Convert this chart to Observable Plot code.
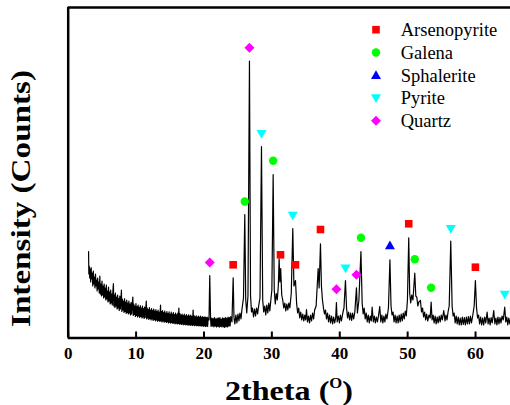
<!DOCTYPE html>
<html><head><meta charset="utf-8">
<script src="https://cdn.jsdelivr.net/npm/d3@7"></script>
<script src="https://cdn.jsdelivr.net/npm/@observablehq/plot@0.6"></script>
<style>body{margin:0;background:#fff;} #chart{width:510px;height:405px;} svg text{font-family:'Liberation Serif','Times New Roman',Times,serif;}</style>
</head><body><div id="chart"></div>
<script>
// XRD trace: [2theta, counts]
const trace = [
[3.00,865],[3.04,640],[3.10,720],[3.17,600],[3.24,690],[3.31,560],[3.38,705],[3.46,590],[3.54,650],[3.62,520],
[3.70,670],[3.78,540],[3.86,610],[3.94,500],[4.02,640],[4.10,520],[4.18,580],[4.26,470],[4.34,600],[4.42,490],
[4.50,560],[4.58,450],[4.66,620],[4.74,440],[4.82,540],[4.90,420],[4.98,570],[5.06,430],[5.14,520],[5.22,400],
[5.30,540],[5.38,410],[5.46,500],[5.54,380],[5.62,530],[5.70,390],[5.78,470],[5.86,360],[5.94,510],[6.02,370],
[6.10,460],[6.18,340],[6.26,480],[6.34,350],[6.42,440],[6.50,330],[6.58,470],[6.66,545],[6.72,320],[6.80,430],
[6.88,305],[6.96,450],[7.04,320],[7.12,410],[7.20,290],[7.28,430],[7.36,300],[7.44,395],[7.52,275],[7.60,420],
[7.68,290],[7.76,380],[7.84,480],[7.90,265],[7.98,390],[8.06,280],[8.14,370],[8.22,255],[8.30,395],[8.38,265],
[8.46,360],[8.54,245],[8.62,380],[8.70,255],[8.78,350],[8.86,240],[8.94,370],[9.02,250],[9.10,340],[9.18,230],
[9.26,355],[9.34,240],[9.42,330],[9.52,410],[9.58,225],[9.66,340],[9.74,235],[9.82,320],[9.90,215],[9.98,345],
[10.06,225],[10.14,315],[10.22,210],[10.30,330],[10.38,220],[10.46,305],[10.54,205],[10.62,325],[10.70,215],[10.78,300],
[10.86,200],[10.94,320],[11.02,210],[11.10,295],[11.18,195],[11.26,310],[11.34,205],[11.42,290],[11.50,370],[11.56,190],
[11.64,300],[11.72,200],[11.80,285],[11.88,185],[11.96,305],[12.04,195],[12.12,280],[12.20,180],[12.28,295],[12.36,190],
[12.44,275],[12.52,175],[12.60,290],[12.68,185],[12.76,270],[12.84,172],[12.92,285],[13.00,180],[13.08,265],[13.16,168],
[13.24,280],[13.32,175],[13.40,260],[13.48,165],[13.60,330],[13.66,170],[13.74,265],[13.82,160],[13.90,275],[13.98,170],
[14.06,255],[14.14,158],[14.22,270],[14.30,165],[14.38,250],[14.46,155],[14.54,265],[14.62,162],[14.70,245],[14.78,150],
[14.86,262],[14.94,158],[15.02,240],[15.10,148],[15.18,258],[15.26,155],[15.34,238],[15.42,145],[15.50,255],[15.58,150],
[15.66,235],[15.74,142],[15.82,250],[15.90,148],[15.98,232],[16.06,140],[16.14,248],[16.22,145],[16.30,300],[16.38,138],
[16.46,245],[16.54,142],[16.62,228],[16.70,135],[16.78,240],[16.86,140],[16.94,225],[17.02,132],[17.10,238],[17.18,138],
[17.26,222],[17.34,130],[17.42,235],[17.50,136],[17.58,220],[17.66,128],[17.74,232],[17.82,134],[17.90,218],[17.98,126],
[18.06,230],[18.14,132],[18.22,215],[18.30,125],[18.40,280],[18.46,130],[18.54,225],[18.62,124],[18.70,212],[18.78,128],
[18.86,222],[18.94,122],[19.02,210],[19.10,126],[19.18,220],[19.26,120],[19.34,208],[19.42,125],[19.50,218],[19.58,118],
[19.66,206],[19.74,124],[19.82,215],[19.90,117],[19.98,205],[20.06,122],[20.14,212],[20.22,116],[20.30,204],[20.38,120],
[20.46,210],[20.54,115],[20.62,200],[20.74,180],[20.85,625],[20.97,190],[21.05,115],
[21.15,200],[21.25,120],[21.35,195],[21.45,112],[21.55,205],[21.65,118],[21.75,192],[21.85,110],[21.95,200],[22.05,115],
[22.15,198],[22.25,108],[22.35,205],[22.45,116],[22.55,190],[22.65,110],[22.75,202],[22.85,112],[22.95,196],[23.05,106],
[23.15,204],[23.25,114],[23.35,198],[23.45,110],[23.55,210],[23.65,118],[23.75,205],[23.85,120],[23.95,215],[24.12,160],
[24.30,602],[24.42,200],
[24.55,140],[24.70,230],[24.85,150],[25.00,240],[25.15,170],[25.30,250],[25.45,190],[25.60,290],[25.82,400],[26.01,1235],
[26.15,380],[26.30,250],[26.48,420],[26.70,2768],[26.86,420],[27.00,260],[27.15,300],[27.30,210],[27.45,290],[27.60,220],
[27.75,300],[27.90,240],[28.05,320],[28.25,400],[28.47,1915],[28.65,380],[28.80,260],[28.95,320],[29.10,230],[29.25,330],
[29.40,250],[29.55,350],[29.70,270],[29.85,380],[30.00,480],[30.19,1635],[30.35,480],[30.50,340],[30.65,445],[30.80,380],
[30.95,520],[31.07,792],[31.18,560],[31.30,695],[31.45,430],[31.60,380],[31.75,300],[31.90,350],[32.05,270],[32.20,340],
[32.35,280],[32.50,350],[32.65,300],[32.86,450],[33.08,1095],[33.25,520],[33.48,575],[33.65,340],[33.80,250],[33.95,300],
[34.10,200],[34.25,260],[34.40,180],[34.55,240],[34.70,170],[34.85,230],[34.98,180],[35.10,285],[35.25,160],[35.40,220],
[35.55,150],[35.70,230],[35.85,170],[36.00,250],[36.15,190],[36.30,280],[36.52,320],[36.82,695],[36.96,500],[37.16,942],
[37.30,520],[37.45,380],[37.60,300],[37.75,240],[37.90,280],[38.05,190],[38.20,250],[38.35,160],[38.50,230],[38.65,150],
[38.80,220],[38.95,140],[39.10,210],[39.25,150],[39.40,200],[39.51,355],[39.62,160],[39.80,220],[39.95,150],[40.10,230],
[40.25,170],[40.45,250],[40.62,300],[40.84,575],[41.00,300],[41.15,200],[41.30,260],[41.45,180],[41.60,250],[41.75,175],
[41.90,250],[42.05,190],[42.22,260],[42.46,502],[42.60,250],[42.82,380],[43.12,865],[43.30,350],[43.45,240],[43.60,300],
[43.75,190],[43.90,250],[44.05,160],[44.20,230],[44.35,150],[44.50,220],[44.65,170],[44.77,308],[44.95,160],[45.10,220],
[45.25,150],[45.40,210],[45.55,160],[45.70,220],[45.89,315],[46.05,160],[46.20,230],[46.35,150],[46.50,220],[46.65,160],
[46.80,240],[46.95,190],[47.17,300],[47.39,782],[47.55,320],[47.70,230],[47.85,260],[48.00,160],[48.15,230],[48.30,150],
[48.45,220],[48.60,150],[48.75,230],[48.90,160],[49.05,240],[49.20,170],[49.35,250],[49.50,190],[49.65,270],[49.80,220],
[49.97,380],[50.16,1002],[50.30,450],[50.45,350],[50.60,430],[50.78,380],[51.05,648],[51.20,420],[51.35,408],[51.50,320],
[51.65,360],[51.88,375],[52.05,260],[52.20,300],[52.35,210],[52.50,260],[52.65,180],[52.80,240],[52.95,170],[53.15,230],
[53.32,200],[53.46,358],[53.60,180],[53.75,230],[53.90,150],[54.05,220],[54.20,140],[54.35,210],[54.50,150],[54.65,220],
[54.80,160],[54.95,230],[55.10,180],[55.32,275],[55.50,170],[55.65,230],[55.80,180],[55.95,260],[56.12,320],[56.35,968],
[56.55,320],[56.70,220],[56.85,250],[57.00,150],[57.15,220],[57.30,140],[57.45,210],[57.60,130],[57.75,200],[57.90,130],
[58.05,210],[58.20,135],[58.35,205],[58.50,130],[58.65,210],[58.80,140],[58.95,215],[59.10,140],[59.25,220],[59.40,150],
[59.60,230],[59.80,320],[59.98,575],[60.15,300],[60.30,200],[60.45,230],[60.60,140],[60.75,210],[60.90,130],[61.05,200],
[61.20,130],[61.35,210],[61.50,150],[61.71,258],[61.85,140],[62.00,200],[62.15,130],[62.30,205],[62.45,150],[62.68,275],
[62.85,140],[63.00,200],[63.15,130],[63.30,210],[63.45,140],[63.60,205],[63.75,150],[63.90,220],[64.08,180],[64.30,308],
[64.45,160],[64.60,210],[64.75,130],[64.90,200],[65.05,140],[65.20,200]
];

// Phase markers: [2theta, counts]
const arsenopyrite = [[24.30,732],[31.27,832],[33.48,732],[37.16,1085],[50.16,1142],[59.98,708]];
const galena = [[26.01,1365],[30.19,1772],[43.12,1002],[51.05,788],[53.46,502]];
const sphalerite = [[47.39,925]];
const pyrite = [[28.47,2042],[33.08,1225],[40.84,698],[56.35,1092],[64.30,435]];
const quartz = [[20.85,755],[26.70,2902],[39.51,488],[42.46,632]];

const phaseNames = ["Arsenopyrite","Galena","Sphalerite","Pyrite","Quartz"];
const phaseColors = ["#ff0000","#00ff00","#0000ff","#00ffff","#ff00ff"];
const xTicks = [0,10,20,30,40,50,60];
const xDomain = [0, 65.15];
const yDomain = [0, 3305];

const hr = s => Math.sqrt(s / Math.PI);
const symSquare = {draw(c, s){ const r = hr(s); c.rect(-r, -r, 2*r, 2*r); }};
const symCircle = {draw(c, s){ const r = hr(s); c.moveTo(r, 0); c.arc(0, 0, r, 0, 2*Math.PI); c.closePath(); }};
const symUp = {draw(c, s){ const r = hr(s); c.moveTo(0, -r); c.lineTo(r, 0.74*r); c.lineTo(-r, 0.74*r); c.closePath(); }};
const symDown = {draw(c, s){ const r = hr(s); c.moveTo(0, r); c.lineTo(r, -0.74*r); c.lineTo(-r, -0.74*r); c.closePath(); }};
const symDiamond = {draw(c, s){ const r = hr(s); c.moveTo(0, -r); c.lineTo(r, 0); c.lineTo(0, r); c.lineTo(-r, 0); c.closePath(); }};
const phaseSymbols = [symSquare, symCircle, symUp, symDown, symDiamond];
const phaseR = [3.8, 4.2, 5, 5, 5];
const phaseData = [arsenopyrite, galena, sphalerite, pyrite, quartz];

const serif = "'Liberation Serif', 'Times New Roman', Times, serif";

const plot = Plot.plot({
  width: 510, height: 405,
  marginLeft: 67.7, marginRight: 0, marginTop: 7, marginBottom: 67.5,
  style: {fontFamily: serif, background: "white", color: "black"},
  x: {domain: xDomain, ticks: xTicks},
  y: {domain: yDomain, axis: null},
  marks: [
    Plot.line(trace, {x: d => d[0], y: d => d[1], stroke: "black", strokeWidth: 1.2, clip: true}),
    ...phaseData.map((data, i) => Plot.dot(data, {
      x: d => d[0], y: d => d[1], symbol: phaseSymbols[i], r: phaseR[i],
      fill: phaseColors[i], stroke: "none"
    })),
    Plot.tickX(xTicks, {x: d => d, insetTop: 324.5, stroke: "black", strokeWidth: 2}),
    Plot.axisX(xTicks, {tickSize: 0, tickPadding: 9, fontSize: 17, fontWeight: "bold", label: null, fill: "black"}),
    Plot.ruleX([xDomain[0]], {stroke: "black", strokeWidth: 2.5}),
    Plot.ruleY([yDomain[0]], {stroke: "black", strokeWidth: 2.5}),
    Plot.ruleY([yDomain[1]], {stroke: "black", strokeWidth: 2.5})
  ]
});

const svg = d3.select(plot);

// x-axis title
const xt = svg.append("text")
  .attr("x", 289).attr("y", 399.5)
  .attr("text-anchor", "middle")
  .style("font-family", serif).attr("font-size", 27).attr("font-weight", "bold")
  .attr("fill", "black")
  .attr("textLength", 128).attr("lengthAdjust", "spacingAndGlyphs");
xt.append("tspan").text("2theta (");
xt.append("tspan").attr("font-size", 14).attr("dy", -12).text("O");
xt.append("tspan").attr("dy", 12).text(")");

// y-axis title
svg.append("text")
  .attr("transform", "translate(30,198.5) rotate(-90)")
  .attr("text-anchor", "middle")
  .style("font-family", serif).attr("font-size", 27).attr("font-weight", "bold")
  .attr("fill", "black")
  .attr("textLength", 257).attr("lengthAdjust", "spacingAndGlyphs")
  .text("Intensity (Counts)");

// legend
phaseNames.forEach((name, i) => {
  const g = svg.append("g").attr("transform", `translate(376,${29.7 + i * 22.75})`);
  g.append("path").attr("d", d3.symbol(phaseSymbols[i], Math.PI * phaseR[i] ** 2)()).attr("fill", phaseColors[i]);
  g.append("text").attr("x", 24.7).attr("y", 6.3)
    .attr("text-anchor", "start")
    .style("font-family", serif).style("font-size", "18.5px").attr("fill", "black")
    .text(name);
});

document.getElementById("chart").appendChild(plot);
</script>
</body></html>
